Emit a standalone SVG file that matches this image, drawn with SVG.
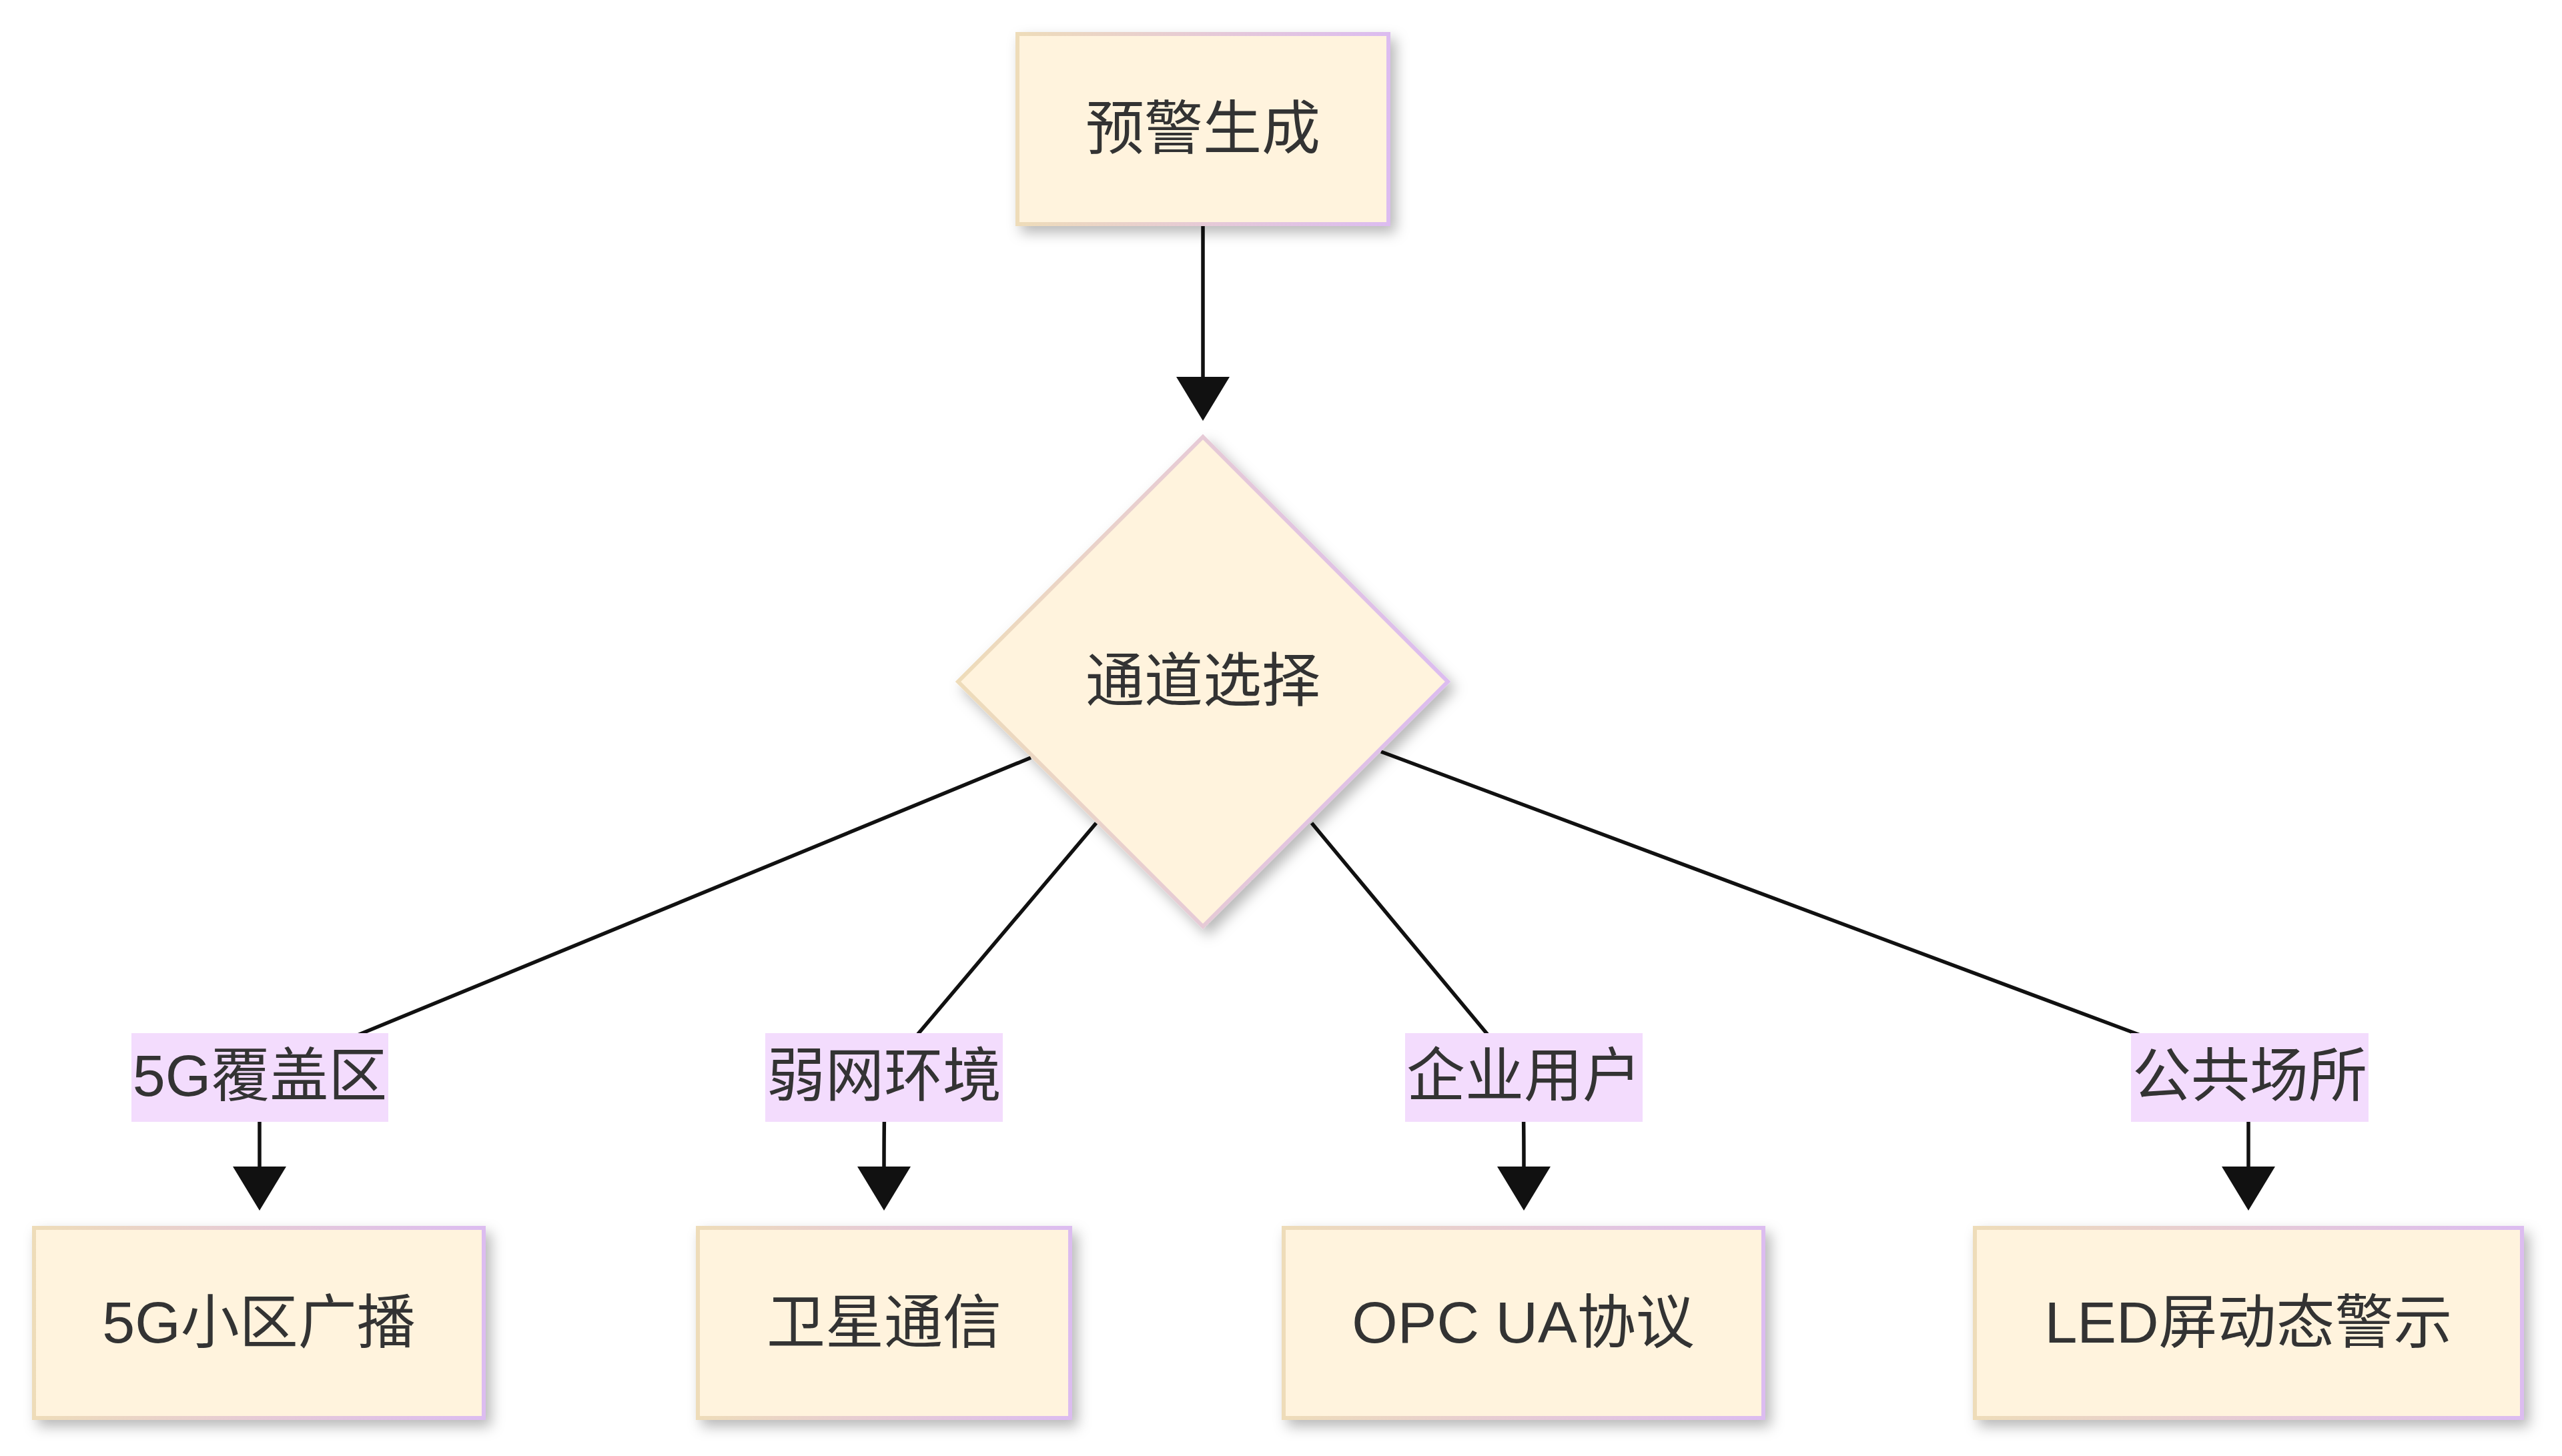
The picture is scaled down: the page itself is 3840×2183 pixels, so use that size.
<svg xmlns="http://www.w3.org/2000/svg" width="3840" height="2183" viewBox="0 0 3840 2183">
  <style>
    .node { fill: #fff3dd; stroke: url(#edgeGrad); stroke-width: 6; filter: url(#shadow); }
    .lbl { fill: #f3dcfd; }
    .t { font-family: "Liberation Sans", "Noto Sans CJK SC", sans-serif; font-size: 88px; fill: #333333; text-anchor: middle; }
    .edge { fill: none; stroke: #111111; stroke-width: 5.5; marker-end: url(#arrow); }
  </style>
  <defs>
    <linearGradient id="edgeGrad" x1="0" y1="0" x2="1" y2="0">
      <stop offset="0" stop-color="#eedcb9"/>
      <stop offset="0.5" stop-color="#e6cad6"/>
      <stop offset="1" stop-color="#dcbcf0"/>
    </linearGradient>
    <filter id="shadow" x="-20%" y="-20%" width="140%" height="150%">
      <feDropShadow dx="8" dy="10" stdDeviation="10" flood-color="#000000" flood-opacity="0.28"/>
    </filter>
    <marker id="arrow" markerUnits="userSpaceOnUse" markerWidth="66" markerHeight="80" viewBox="0 0 66 80" refX="0" refY="40" orient="auto">
      <path d="M0,0 L66,40 L0,80 Z" fill="#111111"/>
    </marker>
  </defs>
  <rect width="3840" height="2183" fill="#ffffff"/>

  <g id="connectors">
    <path class="edge" d="M1803,339 L1803,565"/>
    <path class="edge" d="M1545,1136 L543,1549 L389,1615 L389,1749"/>
    <path class="edge" d="M1643,1234 L1377,1549 L1327,1615 Q1325,1660 1325,1749"/>
    <path class="edge" d="M1966,1234 L2228,1549 L2282,1615 Q2284,1660 2284,1749"/>
    <path class="edge" d="M2070,1127 L3200,1549 L3370,1615 L3370,1749"/>
  </g>

  <g id="node-yujing">
    <rect class="node" x="1525" y="51" width="556" height="285"/>
    <text class="t" x="1803" y="223">预警生成</text>
  </g>
  <g id="node-tongdao">
    <polygon class="node" points="1803,655 2170,1022 1803,1389 1436,1022"/>
    <text class="t" x="1803" y="1051">通道选择</text>
  </g>
  <g id="node-5g">
    <rect class="node" x="51" y="1841" width="674" height="285"/>
    <text class="t" x="388" y="2013">5G小区广播</text>
  </g>
  <g id="node-weixing">
    <rect class="node" x="1046" y="1841" width="558" height="285"/>
    <text class="t" x="1325" y="2013">卫星通信</text>
  </g>
  <g id="node-opc">
    <rect class="node" x="1924" y="1841" width="719" height="285"/>
    <text class="t" x="2283" y="2013">OPC UA协议</text>
  </g>
  <g id="node-led">
    <rect class="node" x="2960" y="1841" width="820" height="285"/>
    <text class="t" x="3370" y="2013">LED屏动态警示</text>
  </g>

  <g id="edge-labels">
    <g id="label-5g">
      <rect class="lbl" x="197" y="1549" width="385" height="133"/>
      <text class="t" x="389.5" y="1643">5G覆盖区</text>
    </g>
    <g id="label-ruowang">
      <rect class="lbl" x="1147" y="1549" width="356" height="133"/>
      <text class="t" x="1325" y="1643">弱网环境</text>
    </g>
    <g id="label-qiye">
      <rect class="lbl" x="2106" y="1549" width="356" height="133"/>
      <text class="t" x="2284" y="1643">企业用户</text>
    </g>
    <g id="label-gonggong">
      <rect class="lbl" x="3194" y="1549" width="356" height="133"/>
      <text class="t" x="3372" y="1643">公共场所</text>
    </g>
  </g>
</svg>
